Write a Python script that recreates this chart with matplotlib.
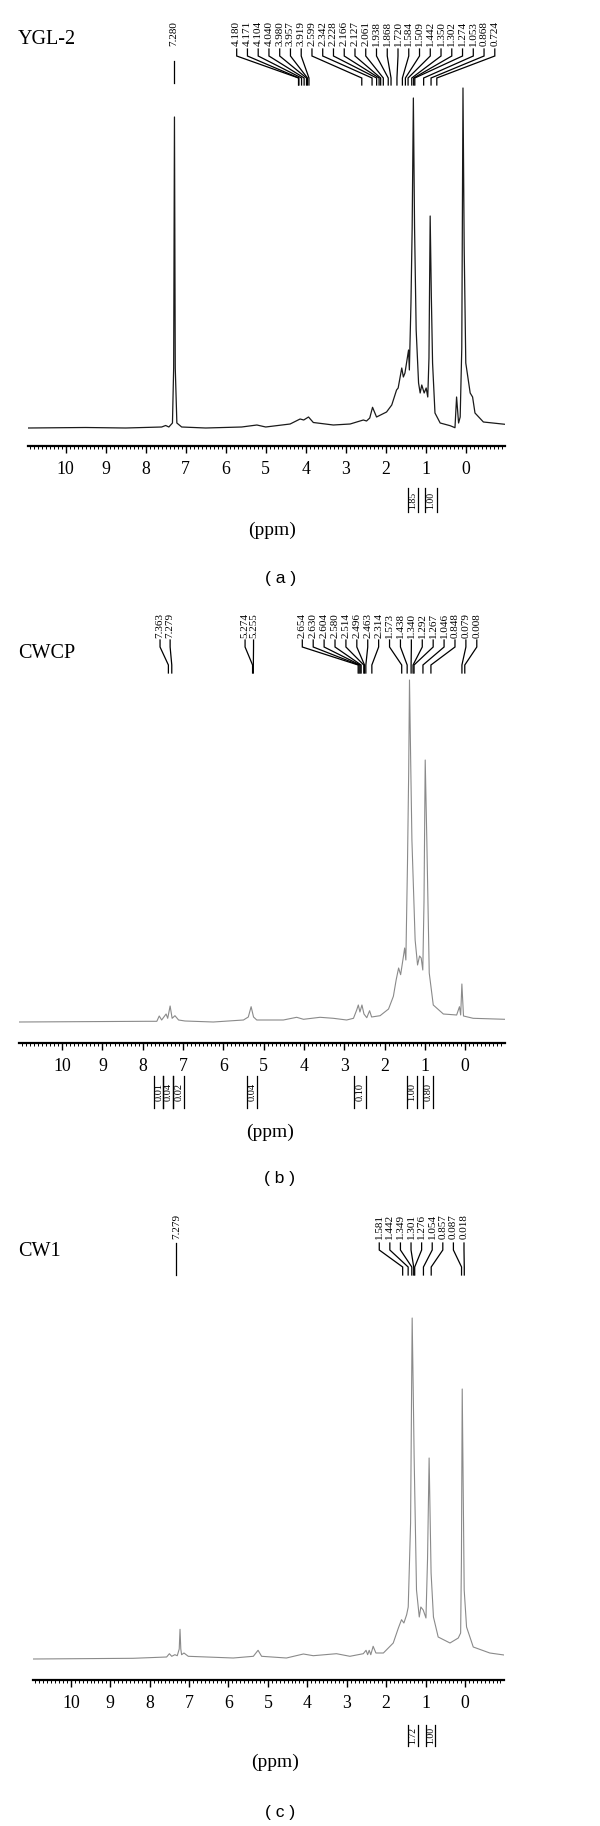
import numpy as np
import matplotlib
matplotlib.use("Agg")
import matplotlib.pyplot as plt
from matplotlib.ticker import MultipleLocator

plt.rcParams['font.family'] = ['Liberation Serif', 'DejaVu Serif']

W, H = 600, 1826

# ---- spectra: shift (ppm) / intensity above baseline ----
ygl_ppm = [10.94, 9.5, 8.5, 7.6, 7.5, 7.42, 7.33, 7.30, 7.28, 7.26, 7.22, 7.1, 6.5,
           5.6, 5.22, 5.0, 4.39, 4.14, 4.05, 3.93, 3.81, 3.31, 2.89, 2.56, 2.48,
           2.40, 2.33, 2.23, 1.98, 1.85, 1.73, 1.69, 1.60, 1.56, 1.52, 1.43, 1.41,
           1.37, 1.34, 1.31, 1.28, 1.24, 1.18, 1.14, 1.10, 1.04, 0.99, 0.95, 0.92,
           0.89, 0.86, 0.83, 0.77, 0.64, 0.39, 0.27, 0.23, 0.18, 0.14, 0.10, 0.07,
           0.04, 0.0, -0.11, -0.17, -0.23, -0.44, -0.98]
ygl_int = [0, 0.5, 0, 1, 2.5, 1, 5, 60, 311, 60, 5, 1, 0,
           1, 3, 1, 4, 9, 8, 11, 5.5, 3, 4, 8, 7,
           10, 20.7, 11, 16, 23, 38, 40, 60, 51, 55, 78, 58,
           125, 200, 330, 200, 98, 45, 35, 43, 35, 40, 31, 70,
           212, 130, 65, 15, 5, 2.3, 0.3, 31, 5, 11, 80, 340,
           180, 65, 35, 31, 15, 6, 3.7]

cwcp_ppm = [11.07, 7.9, 7.65, 7.59, 7.53, 7.42, 7.38, 7.32, 7.27, 7.20, 7.11, 6.95,
            6.25, 5.5, 5.38, 5.31, 5.25, 5.17, 4.51, 4.18, 4.01, 3.6, 3.27, 2.94,
            2.77, 2.69, 2.65, 2.61, 2.56, 2.51, 2.44, 2.37, 2.32, 2.11, 1.9, 1.78,
            1.71, 1.65, 1.60, 1.53, 1.50, 1.47, 1.43, 1.40, 1.38, 1.35, 1.32, 1.24,
            1.18, 1.13, 1.09, 1.05, 1.02, 0.99, 0.95, 0.89, 0.79, 0.54, 0.21, 0.14,
            0.11, 0.08, 0.04, -0.2, -0.99]
cwcp_int = [0, 0.7, 0.7, 6, 2, 8, 3.7, 16, 3.7, 6.3, 2, 1,
            0, 2, 5, 15.3, 5, 2, 2, 4.7, 2.7, 4.7, 3.7, 2,
            3.7, 12, 17, 10, 17, 8, 4.3, 11.3, 5, 6.3, 13, 25.7,
            42.3, 54, 47.3, 65.7, 74, 62, 158, 250, 342, 260, 182, 82,
            57, 66, 64, 52, 120, 262, 182, 49, 17, 8, 7, 15.3,
            7, 38, 6, 3.7, 2.7]

cw1_ppm = [10.96, 8.42, 7.57, 7.50, 7.44, 7.36, 7.30, 7.25, 7.23, 7.21, 7.19, 7.13,
           7.02, 5.88, 5.37, 5.25, 5.16, 4.53, 4.1, 3.85, 3.26, 2.92, 2.58, 2.51,
           2.47, 2.43, 2.39, 2.33, 2.26, 2.07, 1.82, 1.69, 1.61, 1.55, 1.48, 1.44,
           1.38, 1.36, 1.34, 1.31, 1.29, 1.23, 1.16, 1.12, 1.06, 0.99, 0.95, 0.91,
           0.86, 0.80, 0.68, 0.38, 0.17, 0.11, 0.09, 0.07, 0.02, -0.04, -0.21,
           -0.63, -0.99]
cw1_int = [0, 0.7, 2, 5.3, 2.7, 4.3, 3.3, 10, 29.7, 10, 4.3, 6,
           2.7, 1, 2.7, 8.7, 2.7, 1, 5, 3.3, 5.3, 2.7, 5.3, 8.7,
           4.3, 8.7, 4.3, 12.7, 6, 6, 16, 31, 39.3, 36, 44.3, 52,
           136, 240, 341, 260, 202, 69, 42, 52, 49, 41, 100, 201,
           86, 42, 22, 16, 21, 26, 100, 270, 69, 32, 12,
           6, 4]

# peak picks
ygl_solvent = [7.280]
ygl_peaks = [4.180, 4.171, 4.104, 4.040, 3.980, 3.957, 3.919, 2.599, 2.342, 2.228,
             2.166, 2.127, 2.061, 1.938, 1.868, 1.720, 1.584, 1.509, 1.442, 1.350,
             1.302, 1.274, 1.053, 0.868, 0.724]
cwcp_arom = [7.363, 7.279]
cwcp_olef = [5.274, 5.255]
cwcp_peaks = [2.654, 2.630, 2.604, 2.580, 2.514, 2.496, 2.463, 2.314, 1.573, 1.438,
              1.340, 1.292, 1.267, 1.046, 0.848, 0.079, 0.008]
cw1_solvent = [7.279]
cw1_peaks = [1.581, 1.442, 1.349, 1.301, 1.276, 1.054, 0.857, 0.087, 0.018]

# integrals: (from, to) ppm and value
ygl_int_spans = [(1.44, 1.19), (1.02, 0.73)]
ygl_int_vals = ["1.85", "1.00"]
cwcp_int_spans = [(7.72, 7.49), (7.49, 7.24), (7.24, 6.97), (5.42, 5.17),
                  (2.75, 2.46), (1.45, 1.20), (1.05, 0.80)]
cwcp_int_vals = ["0.01", "0.04", "0.02", "0.04", "0.10", "1.00", "0.80"]
cw1_int_spans = [(1.44, 1.19), (1.00, 0.76)]
cw1_int_vals = ["1.72", "1.00"]

tick_vals = list(range(10, -1, -1))


def make_panel(left_px, right_px, top_px, spine_px, zero_px, xlim):
    ax = fig.add_axes([left_px / W, 1 - spine_px / H,
                       (right_px - left_px) / W, (spine_px - top_px) / H])
    ax.set_xlim(*xlim)
    ax.set_ylim(zero_px - spine_px, zero_px - top_px)
    for s in ('top', 'left', 'right'):
        ax.spines[s].set_visible(False)
    ax.spines['bottom'].set_linewidth(1.6)
    ax.set_yticks([])
    ax.set_xticks(tick_vals)
    ax.set_xticklabels([str(t) for t in tick_vals], fontsize=12.8)
    ax.xaxis.set_minor_locator(MultipleLocator(0.1))
    ax.tick_params(which='major', length=5, width=1.0, pad=6)
    ax.tick_params(which='minor', length=2.5, width=0.7)
    ax.patch.set_alpha(0)
    return ax


def label_run(ax, zero, shifts, x_from, x_to, y_txt, y_hook, y_bend, y_end,
              straight=False, size=8):
    xs = np.linspace(x_from, x_to, len(shifts)) if len(shifts) > 1 else [x_from]
    for s, xt in zip(shifts, xs):
        ax.text(xt, zero - y_txt, f"{s:.3f}", rotation=90, ha='center',
                va='bottom', fontsize=size, clip_on=False)
        if straight:
            ax.plot([xt, xt], [zero - y_hook, zero - y_end], color='k', lw=0.9,
                    clip_on=False)
        else:
            ax.plot([xt, xt, s, s],
                    [zero - y_hook, zero - y_hook - 7, zero - y_bend, zero - y_end],
                    color='k', lw=0.9, clip_on=False, solid_joinstyle='miter')


def integrals(ax, zero, spans, vals, y_top, y_bot, size=7):
    for (a, b), v in zip(spans, vals):
        for xx in (a, b):
            ax.plot([xx, xx], [zero - y_top, zero - y_bot], color='k', lw=0.9,
                    clip_on=False)
        ax.text((a + b) / 2, zero - (y_top + y_bot) / 2, v, rotation=90,
                ha='center', va='center', fontsize=size, clip_on=False)


fig = plt.figure(figsize=(W / 100, H / 100), dpi=100)

# ---------------- (a) YGL-2 ----------------
za = 428
ax_a = make_panel(28, 505, 10, 446, za, (10.94, -0.98))
ax_a.plot(ygl_ppm, ygl_int, color='#1a1a1a', lw=0.9)
label_run(ax_a, za, ygl_solvent, 7.29, 7.29, 46, 61, 0, 83, straight=True)
label_run(ax_a, za, ygl_peaks, 5.725, -0.725, 46, 49, 78, 85)
integrals(ax_a, za, ygl_int_spans, ygl_int_vals, 488, 512)
fig.text(18 / W, 1 - 39 / H, "YGL-2", fontsize=14.5, ha='left', va='center')
fig.text(272 / W, 1 - 530 / H, "(ppm)", fontsize=14, ha='center', va='center')
fig.text(281 / W, 1 - 578 / H, "( a )", fontsize=12.5, ha='center', va='center',
         family='Liberation Sans')

# ---------------- (b) CWCP ----------------
zb = 1022
ax_b = make_panel(19, 505, 605, 1043, zb, (11.07, -0.99))
ax_b.plot(cwcp_ppm, cwcp_int, color='#8a8a8a', lw=0.8)
label_run(ax_b, zb, cwcp_arom, 7.57, 7.32, 638, 640, 665, 673)
label_run(ax_b, zb, cwcp_olef, 5.46, 5.25, 638, 640, 665, 673)
label_run(ax_b, zb, cwcp_peaks, 4.04, -0.29, 638, 640, 665, 673)
integrals(ax_b, zb, cwcp_int_spans, cwcp_int_vals, 1076, 1108, size=7.5)
fig.text(18 / W, 1 - 653 / H, "CWCP", fontsize=14.5, ha='left', va='center')
fig.text(270 / W, 1 - 1132 / H, "(ppm)", fontsize=14, ha='center', va='center')
fig.text(280 / W, 1 - 1178 / H, "( b )", fontsize=12.5, ha='center', va='center',
         family='Liberation Sans')

# ---------------- (c) CW1 ----------------
zc = 1659
ax_c = make_panel(33, 504, 1205, 1680, zc, (10.96, -0.99))
ax_c.plot(cw1_ppm, cw1_int, color='#8a8a8a', lw=0.8)
label_run(ax_c, zc, cw1_solvent, 7.32, 7.32, 1239, 1243, 0, 1275, straight=True)
label_run(ax_c, zc, cw1_peaks, 2.175, 0.025, 1239, 1243, 1267, 1275)
integrals(ax_c, zc, cw1_int_spans, cw1_int_vals, 1725, 1746)
fig.text(18 / W, 1 - 1252 / H, "CW1", fontsize=14.5, ha='left', va='center')
fig.text(275 / W, 1 - 1762 / H, "(ppm)", fontsize=14, ha='center', va='center')
fig.text(280 / W, 1 - 1812 / H, "( c )", fontsize=12.5, ha='center', va='center',
         family='Liberation Sans')

fig.savefig("out.png", dpi=100)
